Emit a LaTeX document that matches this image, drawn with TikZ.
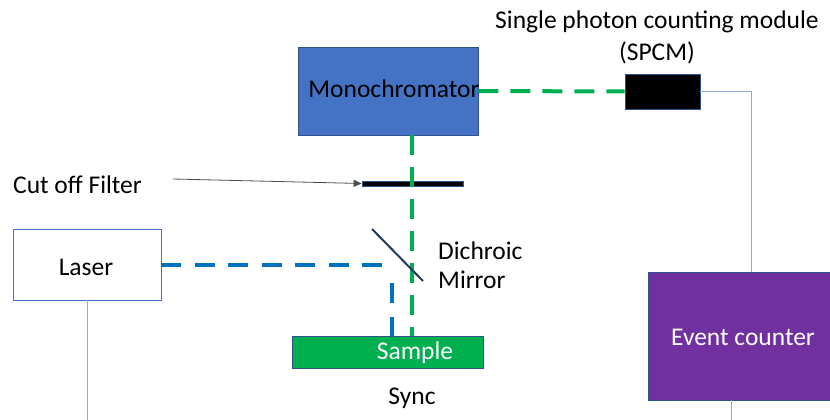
\documentclass[tikz,border=0pt]{standalone}
\usepackage{fontspec}
\setmainfont{Carlito}
\usetikzlibrary{arrows.meta}
\definecolor{mblue}{HTML}{4472C4}
\definecolor{dblue}{HTML}{2F528F}
\definecolor{lgreen}{HTML}{00B050}
\definecolor{bbeam}{HTML}{0070C0}
\definecolor{purp}{HTML}{7030A0}
\definecolor{thin}{HTML}{8FAADC}
\definecolor{navy}{HTML}{1F3864}
\tikzset{
  box/.style={draw=dblue, line width=0.8pt, inner sep=0pt, rectangle},
  txt/.style={font=\fontsize{25.5}{30}\selectfont, inner sep=0pt},
  gbeam/.style={draw=lgreen, line width=4pt, dash pattern=on 20pt off 12pt},
  bbeamst/.style={draw=bbeam, line width=4pt, dash pattern=on 20pt off 13.5pt},
  wire/.style={draw=thin, line width=1pt},
}
\begin{document}
\begin{tikzpicture}[x=1pt,y=-1pt]
\useasboundingbox (0,0) rectangle (830,420);
% boxes
\node[box, fill=mblue, minimum width=180pt, minimum height=88pt] (mono) at (388,91) {};
\node[box, fill=black, minimum width=75pt, minimum height=35pt] (spcm) at (662.5,91.5) {};
\node[box, fill=purp, minimum width=190pt, minimum height=128pt] (event) at (743,336) {};
\node[box, draw=mblue, fill=white, minimum width=148pt, minimum height=71pt] (laser) at (87,264.5) {};
\node[box, fill=lgreen, minimum width=191pt, minimum height=32pt] (sample) at (387.5,352) {};
\node[box, fill=black, minimum width=101pt, minimum height=5pt] (filter) at (412.5,183.5) {};
% texts
\node[txt] (monot) at (394,89) {Monochromator};
\node[txt] (spcmt1) at (657,22) {Single photon counting module};
\node[txt] (spcmt2) at (657,53) {(SPCM)};
\node[txt, anchor=west] (filtt) at (13,185) {Cut off Filter};
\node[txt, anchor=west] (dich) at (438,251) {Dichroic};
\node[txt, anchor=west] (mirr) at (438,280) {Mirror};
\node[txt] (sync) at (412,398) {Sync};
\node[txt] (lasert) at (86,267) {Laser};
\node[txt, text=white] (samplet) at (415,353) {Sample};
\node[txt, text=white] (eventt) at (743,337) {Event counter};
% coordinates
\coordinate (gx) at (412,0);
\coordinate (bend) at (382,264.5);
\coordinate (bx) at (392,283);
\coordinate (m1) at (372,229);
\coordinate (m2) at (423,281);
\coordinate (fa) at (173,179);
\coordinate (ec) at (751,91.5);
\coordinate (bottom) at (0,420);
% beams
\draw[gbeam] (mono.east) -- (spcm.west);
\draw[gbeam] (mono.south -| gx) -- (sample.north -| gx);
\draw[bbeamst] (laser.east) -- (bend);
\draw[bbeamst] (bx) -- (sample.north -| bx);
% mirror
\draw[navy, line width=2pt] (m1) -- (m2);
% filter arrow
\draw[black!70, line width=0.8pt, -{Triangle[length=8pt,width=7pt]}] (fa) -- (filter.west);
% wires
\draw[wire] (spcm.east) -- (ec) -- (ec |- event.north);
\draw[wire] (event.south -| 731,0) -- (731,420);
\draw[wire] (laser.south) -- (laser.south |- bottom);
\end{tikzpicture}
\end{document}
